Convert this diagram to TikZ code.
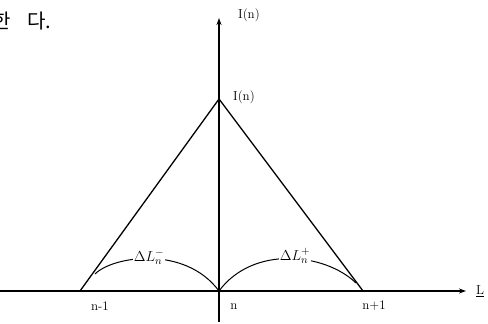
\documentclass[tikz,border=0pt]{standalone}
\usepackage{fontspec}
\newfontfamily\kr{Noto Sans CJK KR}
\usetikzlibrary{arrows.meta}
\begin{document}
\begin{tikzpicture}[x=1pt,y=-1pt,
  ln/.style={line width=1.3pt,line cap=round},
  ax/.style={line width=1.3pt,-{Stealth[length=7pt,width=5pt]}},
  lbl/.style={inner sep=1pt,font=\fontsize{13}{14}\selectfont},
  arclbl/.style={inner sep=1pt,fill=white,font=\fontsize{15}{16}\selectfont},
  krs/.style={inner sep=0pt,font=\kr\fontsize{20}{21}\selectfont}]
\useasboundingbox (0,0) rectangle (488,324);
% Korean text (partly cut off at the left edge)
\node[krs,anchor=east] (kr1) at (11,21) {한};
\node[krs,anchor=west] (kr2) at (27,21) {다.};
% points
\coordinate (O) at (219,291);
\coordinate (A) at (219,99);
\coordinate (L) at (80,291);
\coordinate (R) at (363,291);
\coordinate (xs) at (0,291);
\coordinate (xe) at (466,291);
\coordinate (ys) at (219,322);
\coordinate (ye) at (219,18);
\coordinate (la) at (95,274);
\coordinate (ra) at (356,283);
% axes
\draw[ax] (xs) -- (xe);
\draw[ax] (ys) -- (ye);
% triangle
\draw[ln] (L) -- (A) -- (R);
% arcs
\draw[line width=1pt] (la) .. controls (113,256) and (185,245) .. (O);
\draw[line width=1pt] (O) .. controls (253,245) and (325,253) .. (ra);
% labels
\node[arclbl] (dlm) at (149,257) {$\Delta L_{n}^{-}$};
\node[arclbl] (dlp) at (295,256) {$\Delta L_{n}^{+}$};
\node[lbl,anchor=west] (Itop) at (237,15) {I(n)};
\node[lbl,anchor=west] (Iapx) at (232,97) {I(n)};
\node[lbl] (nm) at (100,306) {n-1};
\node[lbl] (n0) at (234,307) {n};
\node[lbl] (np) at (374,306) {n+1};
\node[lbl] (Lx) at (480,291) {\underline{L}};
\end{tikzpicture}
\end{document}
